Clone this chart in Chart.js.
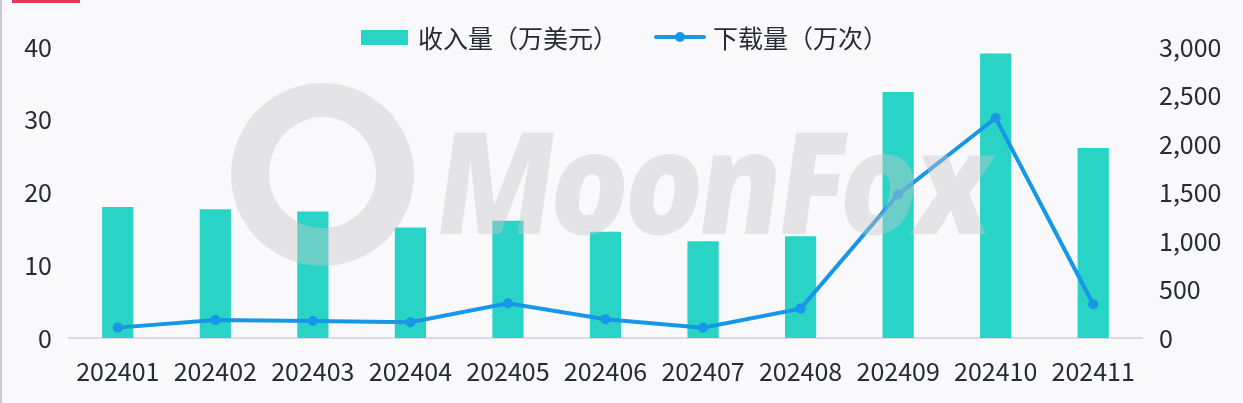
<!DOCTYPE html>
<html>
<head>
<meta charset="utf-8">
<script src="https://cdn.jsdelivr.net/npm/chart.js@4"></script>
<style>
  html, body { margin: 0; padding: 0; background: #f9f9fb; }
  #wrap { position: relative; width: 1243px; height: 403px; overflow: hidden; background: #f9f9fb; }
  #lborder { position: absolute; left: 0; top: 0; width: 2px; height: 403px; background: #c9cbd2; }
  #redbar { position: absolute; left: 12px; top: 0; width: 68px; height: 3px; background: #e8345c; }
  .item { position: absolute; top: 19px; display: flex; align-items: center; white-space: nowrap;
    font-family: "Noto Sans CJK SC", "Noto Sans", sans-serif; font-size: 25px; color: #262b36; }
  .box { width: 47px; height: 15px; background: #29d3c6; margin-right: 10px; }
  .lsym { position: relative; width: 52px; height: 15px; margin-right: 7px; }
  .lsym .ln { position: absolute; left: 0; top: 5px; width: 52px; height: 4px; background: #1896e8; border-radius: 2px; }
  .lsym .dt { position: absolute; left: 21px; top: 2px; width: 10px; height: 10px; background: #1896e8; border-radius: 50%; }
  canvas { position: absolute; left: 0; top: 0; }
  #wm { position: absolute; left: 452px; top: 82px; font-family: "Open Sans", sans-serif; font-weight: 800;
    font-size: 142px; color: rgba(200,200,200,0.42); pointer-events: none; letter-spacing: -4px; transform-origin: left top; transform: skewX(-8deg) scaleX(0.86); }
  #logo { position: absolute; left: 231px; top: 83px; width: 107px; height: 111px; border-radius: 50%;
    border: 38px solid rgba(200,200,200,0.42); border-right-width: 38px; border-top-width: 34px; pointer-events: none; }
</style>
</head>
<body>
<div id="wrap">
  <canvas id="c" width="1243" height="403"></canvas>
  <div id="lborder"></div>
  <div id="redbar"></div>
  <div class="item" style="left:361px"><div class="box"></div><span id="lab1"></span></div>
  <div class="item" style="left:654px"><div class="lsym"><div class="ln"></div><div class="dt"></div></div><span id="lab2"></span></div>
  <div id="logo"></div>
  <div id="wm">MoonFox</div>
</div>
<script>
const categories = ['202401','202402','202403','202404','202405','202406','202407','202408','202409','202410','202411'];
const revenue = [18.0, 17.7, 17.4, 15.2, 16.1, 14.6, 13.3, 14.0, 33.8, 39.1, 26.1];
const downloads = [107, 186, 176, 162, 359, 193, 107, 303, 1479, 2268, 348];
const revenueLabel = '收入量（万美元）';
const downloadsLabel = '下载量（万次）';

document.getElementById('lab1').textContent = revenueLabel;
document.getElementById('lab2').textContent = downloadsLabel;

const FONT = { family: '"Noto Sans CJK SC", "Noto Sans", sans-serif', size: 25 };
const TXT = '#262b36';

new Chart(document.getElementById('c'), {
  data: {
    labels: categories,
    datasets: [
      { type: 'line', label: downloadsLabel, data: downloads, yAxisID: 'y1', order: 1,
        borderColor: '#1896e8', backgroundColor: '#1896e8', borderWidth: 4,
        pointRadius: 5, pointBackgroundColor: '#1896e8', pointBorderWidth: 0, tension: 0 },
      { type: 'bar', label: revenueLabel, data: revenue, yAxisID: 'y', order: 2,
        backgroundColor: '#29d3c6', barPercentage: 0.32, categoryPercentage: 1.0 }
    ]
  },
  options: {
    responsive: false,
    animation: false,
    layout: { padding: { top: 47, left: 0, right: 0, bottom: 0 } },
    plugins: { legend: { display: false }, tooltip: { enabled: false } },
    scales: {
      x: {
        grid: { display: false, drawTicks: false },
        border: { display: true, color: '#d9dbe6', width: 2 },
        ticks: { color: TXT, font: FONT, padding: 18, maxRotation: 0, autoSkip: false },
        afterFit(s) { s.height = 65; }
      },
      y: {
        position: 'left', min: 0, max: 40,
        grid: { display: false, drawTicks: false },
        border: { display: false },
        ticks: { stepSize: 10, color: TXT, font: FONT, padding: 17 },
        afterFit(s) { s.width = 69; }
      },
      y1: {
        position: 'right', min: 0, max: 3000,
        grid: { display: false, drawTicks: false },
        border: { display: false },
        ticks: { stepSize: 500, color: TXT, font: FONT, padding: 17 },
        afterFit(s) { s.width = 101; }
      }
    }
  }
});
</script>
</body>
</html>
